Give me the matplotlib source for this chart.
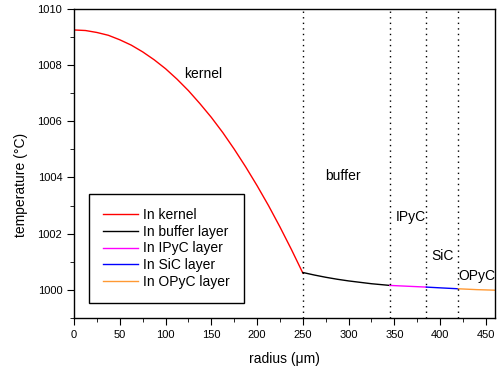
import numpy as np
import matplotlib
matplotlib.use("Agg")
import matplotlib.pyplot as plt
from matplotlib.ticker import MultipleLocator

plt.rcParams['font.family'] = ['Liberation Sans', 'DejaVu Sans']

# values
r_kernel = [0, 12.5, 25, 37.5, 50, 62.5, 75, 87.5, 100, 112.5, 125,
            137.5, 150, 162.5, 175, 187.5, 200, 212.5, 225, 237.5, 250]
t_kernel = [1009.25, 1009.23, 1009.16, 1009.06, 1008.90, 1008.71, 1008.47,
            1008.19, 1007.87, 1007.50, 1007.09, 1006.63, 1006.14, 1005.60,
            1005.01, 1004.38, 1003.71, 1003.00, 1002.24, 1001.44, 1000.60]
r_buffer = [250, 262.5, 275, 287.5, 300, 312.5, 325, 345]
t_buffer = [1000.62, 1000.53, 1000.45, 1000.38, 1000.32, 1000.27, 1000.22, 1000.16]
r_ipyc = [345, 365, 385]
t_ipyc = [1000.16, 1000.13, 1000.10]
r_sic = [385, 402, 420]
t_sic = [1000.10, 1000.07, 1000.04]
r_opyc = [420, 440, 460]
t_opyc = [1000.04, 1000.01, 999.99]

boundaries = [250, 345, 385, 420]
region_names = ["kernel", "buffer", "IPyC", "SiC", "OPyC"]
region_xy = [(120, 1007.7), (274, 1004.05), (352, 1002.6), (390, 1001.2), (420, 1000.5)]

fig = plt.figure(figsize=(4.97, 3.70), dpi=100)
ax = fig.add_axes([0.149, 0.1405, 0.847, 0.8355])

ax.plot(r_kernel, t_kernel, color='red', lw=1, label='In kernel')
ax.plot(r_buffer, t_buffer, color='black', lw=1, label='In buffer layer')
ax.plot(r_ipyc, t_ipyc, color='magenta', lw=1, label='In IPyC layer')
ax.plot(r_sic, t_sic, color='blue', lw=1, label='In SiC layer')
ax.plot(r_opyc, t_opyc, color='#ff9933', lw=1, label='In OPyC layer')

for b in boundaries:
    ax.axvline(b, color='black', ls=(0, (1, 3)), lw=1)

for name, (x, y) in zip(region_names, region_xy):
    ax.text(x, y, name, fontsize=10, va='center', ha='left')

ax.set_xlim(0, 460)
ax.set_ylim(999, 1010)
ax.xaxis.set_major_locator(MultipleLocator(50))
ax.xaxis.set_minor_locator(MultipleLocator(25))
ax.yaxis.set_major_locator(MultipleLocator(2))
ax.yaxis.set_minor_locator(MultipleLocator(1))
ax.tick_params(which='both', direction='out', top=False, right=False, labelsize=8)
ax.tick_params(which='major', length=5)
ax.tick_params(which='minor', length=3)
for s in ax.spines.values():
    s.set_linewidth(1)

ax.set_xlabel('radius (\u03bcm)', fontsize=10, labelpad=9)
ax.set_ylabel('temperature (\u00b0C)', fontsize=10)
ax.yaxis.set_label_coords(-0.11, 0.43)

leg = ax.legend(loc='lower left', bbox_to_anchor=(0.036, 0.049), fontsize=10,
                fancybox=False, edgecolor='black', framealpha=1,
                handlelength=2.5, labelspacing=0.2, borderpad=1.0,
                handletextpad=0.4, borderaxespad=0)
leg.get_frame().set_linewidth(1)

fig.savefig('out.png', dpi=100)
